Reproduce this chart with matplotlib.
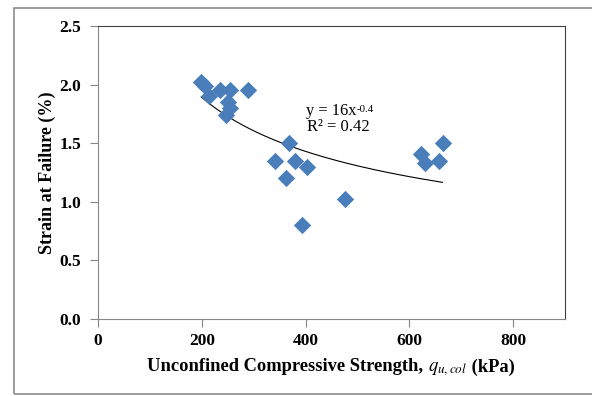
import numpy as np
import matplotlib.pyplot as plt
from matplotlib.patches import Rectangle

# unconfined compressive strength (kPa) and strain at failure (%)
qu = [199, 206, 214, 235, 254, 251, 255, 247, 289, 369, 342, 380, 362, 402, 393, 476, 623, 631, 657, 664]
strain = [2.02, 1.99, 1.90, 1.95, 1.95, 1.85, 1.80, 1.74, 1.95, 1.50, 1.35, 1.35, 1.20, 1.30, 0.80, 1.02, 1.41, 1.33, 1.35, 1.50]

xticks = [0, 200, 400, 600, 800]
yticks = [0.0, 0.5, 1.0, 1.5, 2.0, 2.5]

# power trendline fitted like Excel does (log-log least squares)
x = np.array(qu, dtype=float)
y = np.array(strain, dtype=float)
b, ln_a = np.polyfit(np.log(x), np.log(y), 1)
xf = np.linspace(x.min(), x.max(), 200)
yf = np.exp(ln_a) * xf ** b
r2 = np.corrcoef(np.log(x), np.log(y))[0, 1] ** 2

plt.rcParams['font.family'] = ['Liberation Serif', 'DejaVu Serif']

fig = plt.figure(figsize=(5.92, 3.96), dpi=100)
fig.patches.append(Rectangle((0.0236, 0.005), 1.2, 0.975, transform=fig.transFigure,
                             fill=False, edgecolor='#8c8c8c', linewidth=1.2))
ax = fig.add_axes([0.1655, 0.1944, 0.7889, 0.7399])

ax.plot(xf, yf, color='black', linewidth=0.8)
ax.scatter(qu, strain, marker='D', s=78, color='#4a7ebb', linewidths=0, zorder=3)

ax.set_xlim(0, 900)
ax.set_ylim(0, 2.5)
ax.set_xticks(xticks)
ax.set_yticks(yticks)
ax.set_xticklabels([str(t) for t in xticks])
ax.set_yticklabels([f'{t:.1f}' for t in yticks])
ax.tick_params(direction='out', length=6, width=0.8, color='#868686', labelsize=12.5)
ax.tick_params(axis='y', pad=6)
ax.tick_params(axis='x', pad=4)
for lab in ax.get_xticklabels() + ax.get_yticklabels():
    lab.set_fontweight('bold')

for side in ['left', 'bottom']:
    ax.spines[side].set_color('#868686')
for side in ['top', 'right']:
    ax.spines[side].set_color('#404040')

fig.canvas.draw()
r = fig.canvas.get_renderer()

# x label built from pieces so the subscript can be italic
yb = 0.062
parts = [('Unconfined Compressive Strength, ', dict(fontweight='bold')),
         (r'$\mathit{q}_{\mathit{u,col}}$', dict(math_fontfamily='stix', fontsize=13.5)),
         (' (kPa)', dict(fontweight='bold'))]
texts = []
for s, kw in parts:
    kw = dict(kw)
    kw.setdefault('fontsize', 13.3)
    texts.append(fig.text(0, yb, s, ha='left', va='baseline', **kw))
widths = [t.get_window_extent(renderer=r).width / fig.bbox.width for t in texts]
x0 = 331 / 592 - sum(widths) / 2
for t, w in zip(texts, widths):
    t.set_x(x0)
    x0 += w

fig.text(47 / 592, (396 - 172.5) / 396, 'Strain at Failure (%)', rotation=90, fontsize=13,
         fontweight='bold', ha='center', va='center')

# trendline equation, superscript written as plain text
eq = ax.text(400, 1.74, 'y = 16x', fontsize=11.8, ha='left', va='baseline')
bb = eq.get_window_extent(renderer=r)
ax.annotate(f'{b:.1f}'.replace('\u2212', '-'), xy=(bb.x1 / fig.bbox.width, bb.y0 / fig.bbox.height),
            xycoords='figure fraction', xytext=(0.5, 5), textcoords='offset points',
            fontsize=7.8, ha='left', va='baseline')
ax.text(403, 1.60, f'R² = {r2:.2f}', fontsize=12, ha='left', va='baseline')

fig.savefig('out.png', dpi=100)
